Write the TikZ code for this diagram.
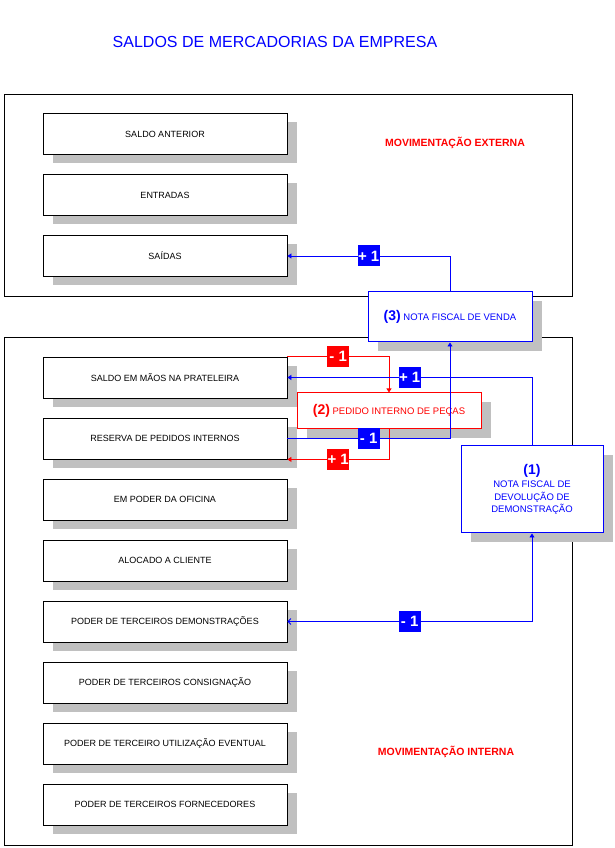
\documentclass[tikz,border=0pt]{standalone}
\usepackage{fontspec}
\setmainfont{Liberation Sans}
\usetikzlibrary{positioning, arrows.meta, shadows}
\definecolor{cB}{RGB}{0,0,255}
\definecolor{cR}{RGB}{255,0,0}
\definecolor{cG}{RGB}{192,192,192}

\begin{document}
\begin{tikzpicture}[x=1pt, y=1pt, node distance=61pt, on grid, line width=0.8pt,
    sombra/.style={drop shadow={shadow xshift=10pt, shadow yshift=-9pt, fill=cG, opacity=1}},
    conta/.style={draw, fill=white, sombra, minimum width=244pt, minimum height=41pt, inner sep=0pt, font=\fontsize{9}{11}\selectfont},
    nota/.style={draw=#1, text=#1, fill=white, sombra, line width=1pt, inner sep=0pt, align=center, font=\fontsize{9.5}{12.5}\selectfont},
    tag/.style={fill=#1, text=white, inner sep=0pt, minimum width=22pt, minimum height=21pt, font=\fontsize{15}{15}\selectfont\bfseries},
    seta/.style={-{Triangle[length=4pt, width=5pt]}}]
    \useasboundingbox (0,0) rectangle (614,848);

    \node[text=cB, font=\fontsize{16}{18}\selectfont] (titulo) at (275,806) {SALDOS DE MERCADORIAS DA EMPRESA};

    % quadros
    \draw (4,552) rectangle (572,754);
    \draw (4,3) rectangle (572,511);

    \node[conta] (E1) at (165,714) {SALDO ANTERIOR};
    \node[conta] (E2) [below=of E1] {ENTRADAS};
    \node[conta] (E3) [below=of E2] {SAÍDAS};

    \node[conta] (I1) at (165,470.5) {SALDO EM MÃOS NA PRATELEIRA};
    \node[conta] (I2) [below=of I1] {RESERVA DE PEDIDOS INTERNOS};
    \node[conta] (I3) [below=of I2] {EM PODER DA OFICINA};
    \node[conta] (I4) [below=of I3] {ALOCADO A CLIENTE};
    \node[conta] (I5) [below=of I4] {PODER DE TERCEIROS DEMONSTRAÇÕES};
    \node[conta] (I6) [below=of I5] {PODER DE TERCEIROS CONSIGNAÇÃO};
    \node[conta] (I7) [below=of I6] {PODER DE TERCEIRO UTILIZAÇÃO EVENTUAL};
    \node[conta] (I8) [below=of I7] {PODER DE TERCEIROS FORNECEDORES};

    \node[text=cR, font=\fontsize{10.5}{12}\selectfont\bfseries] (mext) at (455,705) {MOVIMENTAÇÃO EXTERNA};
    \node[text=cR, font=\fontsize{10.5}{12}\selectfont\bfseries] (mint) at (446,96) {MOVIMENTAÇÃO INTERNA};

    \node[nota=cB, minimum width=164pt, minimum height=50pt] (N3) at (450,531) {{\fontsize{14}{16}\selectfont\bfseries(3)} NOTA FISCAL DE VENDA};
    \node[nota=cR, minimum width=184pt, minimum height=36pt] (N2) at (389,437) {{\fontsize{14}{16}\selectfont\bfseries(2)} PEDIDO INTERNO DE PEÇAS};
    \node[nota=cB, minimum width=142pt, minimum height=87pt] (N1) at (532,358.5) {{\fontsize{14}{16}\selectfont\bfseries(1)}\\[1pt] NOTA FISCAL DE\\ DEVOLUÇÃO DE\\ DEMONSTRAÇÃO};

    \draw[cB, seta] (N3.north) |- node[tag=cB, pos=0.75] (t1) {+ 1} (E3.east);
    \draw[cR, seta] (I1.north east) -| node[tag=cR, pos=0.25] (t2) {- 1} (N2.north);
    \draw[cR, seta] (N2.south) |- node[tag=cR, pos=0.75] (t3) {+ 1} (I2.south east);
    \draw[cB, seta] (N1.north) |- node[tag=cB, pos=0.75] (t4) {+ 1} (I1.east);
    \draw[cB, seta] (I2.east) -| node[tag=cB, pos=0.25] (t5) {- 1} (N3.south);
    \draw[cB, {Straight Barb[length=3pt, width=6pt]}-{Triangle[length=4pt, width=5pt]}] (I5.east) -| node[tag=cB, pos=0.25] (t6) {- 1} (N1.south);
\end{tikzpicture}
\end{document}
